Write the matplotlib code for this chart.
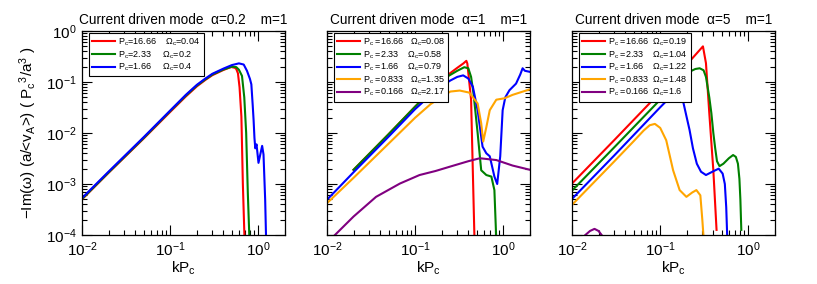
import matplotlib
matplotlib.use("Agg")
import matplotlib.pyplot as plt

plt.rcParams['font.family'] = ['Liberation Sans', 'DejaVu Sans']
plt.rcParams['mathtext.default'] = 'regular'

# ---- panel 1 : alpha = 0.2 ----
k1_red = [0.01, 0.02, 0.05, 0.1, 0.15, 0.2, 0.25, 0.3, 0.4, 0.49, 0.54, 0.56, 0.585, 0.61, 0.64, 0.665, 0.695]
y1_red = [5.0e-4, 1.66e-3, 7.8e-3, 0.026, 0.052, 0.082, 0.11, 0.136, 0.172, 0.197, 0.19, 0.18, 0.148,
          0.079, 0.021, 1.0e-3, 8e-5]
k1_green = [0.01, 0.02, 0.05, 0.1, 0.15, 0.2, 0.25, 0.3, 0.4, 0.5, 0.56, 0.6, 0.65, 0.69, 0.725, 0.757, 0.79]
y1_green = [5.1e-4, 1.69e-3, 8.0e-3, 0.027, 0.054, 0.085, 0.113, 0.14, 0.176, 0.2, 0.196, 0.174, 0.132,
            0.05, 0.01, 6.6e-4, 8e-5]
k1_blue = [0.01, 0.02, 0.05, 0.1, 0.15, 0.2, 0.25, 0.3, 0.4, 0.5, 0.6, 0.68, 0.74, 0.8, 0.83, 0.86, 0.88,
           0.9, 0.92, 0.95, 1.0, 1.1, 1.14, 1.19, 1.22]
y1_blue = [5.3e-4, 1.75e-3, 8.3e-3, 0.0277, 0.056, 0.088, 0.117, 0.145, 0.183, 0.215, 0.232, 0.22, 0.166,
           0.115, 0.09, 0.035, 0.018, 8e-3, 5e-3, 6e-3, 2.6e-3, 5.6e-3, 3.8e-3, 5e-4, 8e-5]

# ---- panel 2 : alpha = 1 ----
k2_red = [0.02, 0.05, 0.1, 0.2, 0.25, 0.3, 0.35, 0.38, 0.39, 0.43, 0.47]
y2_red = [1.9e-3, 9.5e-3, 0.033, 0.112, 0.15, 0.19, 0.23, 0.26, 0.23, 0.045, 8e-5]
k2_green = [0.02, 0.05, 0.1, 0.2, 0.25, 0.3, 0.36, 0.4, 0.43, 0.46, 0.51, 0.56, 0.64, 0.73, 0.79, 0.83]
y2_green = [1.9e-3, 9.5e-3, 0.033, 0.11, 0.138, 0.166, 0.195, 0.186, 0.126, 0.056, 0.01, 1.86e-3,
            1.5e-3, 1.4e-3, 7.6e-4, 8e-5]
k2_blue = [0.01, 0.02, 0.05, 0.1, 0.18, 0.25, 0.3, 0.35, 0.4, 0.45, 0.51, 0.58, 0.64, 0.7, 0.79, 0.85,
           0.92, 0.98, 1.05, 1.17, 1.39, 1.55, 1.65, 1.75, 2.0]
y2_blue = [4.9e-4, 1.7e-3, 8.5e-3, 0.0295, 0.074, 0.107, 0.126, 0.135, 0.117, 0.081, 0.028, 5.4e-3,
           4e-3, 3.5e-3, 1.4e-3, 1.0e-3, 3.5e-3, 0.028, 0.05, 0.069, 0.093, 0.14, 0.186, 0.166, 0.158]
k2_orange = [0.01, 0.02, 0.05, 0.1, 0.15, 0.2, 0.25, 0.32, 0.41, 0.51, 0.56, 0.59, 0.64, 0.7, 0.83,
             1.03, 1.27, 2.0]
y2_orange = [4.2e-4, 1.32e-3, 6.2e-3, 0.02, 0.037, 0.051, 0.065, 0.068, 0.062, 0.038, 0.0155, 6.8e-3,
             0.013, 0.028, 0.045, 0.048, 0.056, 0.072]
k2_purple = [0.0105, 0.0118, 0.02, 0.036, 0.067, 0.112, 0.17, 0.25, 0.4, 0.54, 0.83, 1.27, 2.0]
y2_purple = [7.5e-5, 9.3e-5, 2.3e-4, 5.6e-4, 1.02e-3, 1.5e-3, 1.8e-3, 2.2e-3, 2.8e-3, 3.2e-3, 2.95e-3,
             2.3e-3, 1.9e-3]

# ---- panel 3 : alpha = 5 ----
k3_red = [0.01, 0.03, 0.1, 0.2, 0.305, 0.33, 0.36, 0.40, 0.423, 0.435]
y3_red = [1.02e-3, 7.2e-3, 0.063, 0.22, 0.5, 0.234, 0.0245, 1.86e-3, 3.1e-4, 1.26e-4]
k3_green = [0.01, 0.03, 0.1, 0.2, 0.22, 0.25, 0.28, 0.31, 0.33, 0.36, 0.38, 0.4, 0.42, 0.44, 0.47,
            0.52, 0.6, 0.67, 0.72, 0.76, 0.79, 0.81, 0.83]
y3_green = [7.4e-4, 5.2e-3, 0.045, 0.155, 0.162, 0.18, 0.186, 0.17, 0.126, 0.05, 0.0245, 0.01, 5.0e-3,
            2.8e-3, 2.24e-3, 2.5e-3, 3.2e-3, 3.7e-3, 3.4e-3, 2.5e-3, 1.26e-3, 5e-4, 1.26e-4]
k3_blue = [0.01, 0.03, 0.1, 0.12, 0.145, 0.16, 0.18, 0.2, 0.215, 0.235, 0.26, 0.29, 0.33, 0.40, 0.46,
           0.51, 0.54, 0.56, 0.575]
y3_blue = [5.1e-4, 3.6e-3, 0.032, 0.044, 0.056, 0.057, 0.045, 0.02, 0.0115, 5e-3, 2.5e-3, 1.74e-3,
           1.5e-3, 1.78e-3, 2.0e-3, 1.6e-3, 1.0e-3, 3.5e-4, 9e-5]
k3_orange = [0.01, 0.03, 0.05, 0.065, 0.076, 0.087, 0.1, 0.117, 0.14, 0.166, 0.198, 0.23, 0.257, 0.285,
             0.30, 0.31]
y3_orange = [3.9e-4, 2.75e-3, 6.9e-3, 0.0112, 0.0142, 0.0151, 0.0126, 7.2e-3, 1.86e-3, 7.6e-4, 5.6e-4,
             6.8e-4, 7.6e-4, 6e-4, 2e-4, 9e-5]
k3_purple = [0.0125, 0.0135, 0.016, 0.018, 0.02, 0.0224, 0.024]
y3_purple = [7e-5, 9.3e-5, 1.2e-4, 1.32e-4, 1.2e-4, 9.3e-5, 7e-5]

titles = ["Current driven mode  α=0.2    m=1",
          "Current driven mode  α=1    m=1",
          "Current driven mode  α=5    m=1"]

labels1 = ["P$_c$=16.66    Ω$_c$=0.04",
           "P$_c$=2.33     Ω$_c$=0.2",
           "P$_c$=1.66     Ω$_c$=0.4"]
labels2 = ["P$_c$ =16.66   Ω$_c$=0.08",
           "P$_c$ =2.33    Ω$_c$=0.58",
           "P$_c$ =1.66    Ω$_c$=0.79",
           "P$_c$ =0.833   Ω$_c$=1.35",
           "P$_c$ =0.166   Ω$_c$=2.17"]
labels3 = ["P$_c$ =16.66  Ω$_c$=0.19",
           "P$_c$ =2.33    Ω$_c$=1.04",
           "P$_c$ =1.66    Ω$_c$=1.22",
           "P$_c$ =0.833  Ω$_c$=1.48",
           "P$_c$ =0.166  Ω$_c$=1.6"]

colors = ['#ff0000', '#008000', '#0000ff', '#ffa500', '#800080']

panels = [
    ([(k1_red, y1_red), (k1_green, y1_green), (k1_blue, y1_blue)], labels1),
    ([(k2_red, y2_red), (k2_green, y2_green), (k2_blue, y2_blue), (k2_orange, y2_orange),
      (k2_purple, y2_purple)], labels2),
    ([(k3_red, y3_red), (k3_green, y3_green), (k3_blue, y3_blue), (k3_orange, y3_orange),
      (k3_purple, y3_purple)], labels3),
]

fig = plt.figure(figsize=(8.17, 2.84), dpi=100)
lefts = [0.1004, 0.4002, 0.7001]

for i, (curves, labels) in enumerate(panels):
    ax = fig.add_axes([lefts[i], 0.1725, 0.2485, 0.7183])
    for (k, y), lab, c in zip(curves, labels, colors):
        ax.plot(k, y, color=c, lw=1.5, label=lab)
    ax.set_xscale('log')
    ax.set_yscale('log')
    ax.set_xlim(0.01, 2.0)
    ax.set_ylim(1e-4, 1.0)
    ax.tick_params(which='both', direction='in', top=True, right=True, labelsize=11, pad=4)
    ax.tick_params(which='major', length=7, width=0.8)
    ax.tick_params(which='minor', length=3.5, width=0.8)
    for s in ax.spines.values():
        s.set_linewidth(0.9)
    ax.set_xlabel("kP$_c$", fontsize=11, labelpad=0)
    ax.set_title(titles[i], fontsize=9.8, pad=5)
    if i == 0:
        ax.set_ylabel("−Im(ω) (a/<v$_A$>) ( P$_c$$^3$/a$^3$ )", fontsize=11, labelpad=5)
    else:
        ax.tick_params(labelleft=False)
    leg = ax.legend(loc='upper left', bbox_to_anchor=(0.035, 0.988), borderaxespad=0,
                    fontsize=6.5, handlelength=2.5, handletextpad=0.4, borderpad=0.35,
                    labelspacing=0.12, fancybox=False, framealpha=1, edgecolor='black')
    leg.get_frame().set_linewidth(0.8)

fig.savefig("out.png", dpi=100)
